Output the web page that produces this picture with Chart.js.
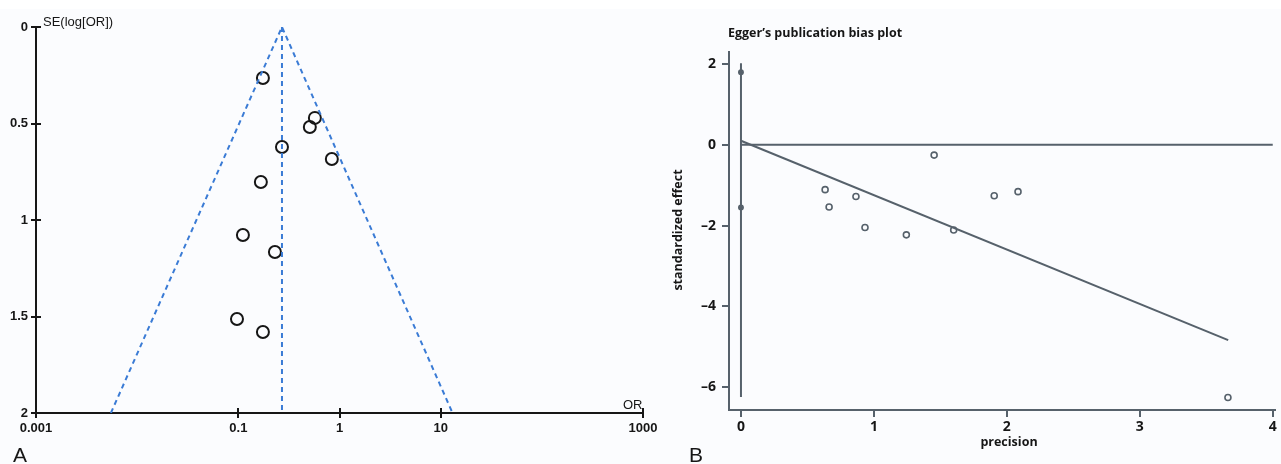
<!DOCTYPE html>
<html>
<head>
<meta charset="utf-8">
<script src="https://cdn.jsdelivr.net/npm/chart.js@4/dist/chart.umd.min.js"></script>
<style>
  html, body { margin: 0; padding: 0; background: #fbfcfe; }
  body { width: 1281px; height: 464px; position: relative; overflow: hidden; }
  #topStrip { position: absolute; left: 0; top: 0; width: 1281px; height: 9px; background: #fff; }
  #chartA { position: absolute; left: 0; top: 0; }
  #chartB { position: absolute; left: 660px; top: 0; }
</style>
</head>
<body>
<div id="topStrip"></div>
<canvas id="chartA" width="660" height="464"></canvas>
<canvas id="chartB" width="621" height="464"></canvas>
<script>
// panel A: funnel plot
const studyOR = [0.175, 0.509, 0.571, 0.27, 0.84, 0.167, 0.111, 0.23, 0.097, 0.175];
const studySE = [0.264, 0.518, 0.471, 0.622, 0.684, 0.803, 1.078, 1.166, 1.513, 1.58];
const pooledOR = 0.27;
const funnelOR = [0.0055, 0.27, 13.1];
const funnelSE = [2, 0, 2];
const orTicks = [0.001, 0.1, 1, 10, 1000];
const seTicks = [0, 0.5, 1, 1.5, 2];

// panel B: Egger's plot
const precision = [0.633, 0.663, 0.865, 0.933, 1.244, 1.453, 1.60, 1.905, 2.084, 3.663];
const stdEffect = [-1.11, -1.54, -1.28, -2.05, -2.23, -0.255, -2.11, -1.26, -1.16, -6.26];
const interceptPts = [1.8, -1.55];
const interceptLine = [2.02, -6.25];
const fitX = [0, 3.665];
const fitY = [0.1, -4.84];
const zeroX = [0, 4];
const precTicks = [0, 1, 2, 3, 4];
const effTicks = [2, 0, -2, -4, -6];

const blue = '#3a7bd5';
const ink = '#161616';
const slate = '#56616b';

// small plugin: crossing tick marks + free text for panel A
const funnelDecor = {
  id: 'funnelDecor',
  afterDraw(chart) {
    const ctx = chart.ctx;
    const xs = chart.scales.x, ys = chart.scales.y;
    ctx.save();
    ctx.strokeStyle = ink;
    ctx.lineWidth = 2;
    orTicks.forEach(v => {
      const px = Math.round(xs.getPixelForValue(v));
      ctx.beginPath(); ctx.moveTo(px, xs.top - 5); ctx.lineTo(px, xs.top + 5); ctx.stroke();
    });
    seTicks.forEach(v => {
      const py = Math.round(ys.getPixelForValue(v));
      ctx.beginPath(); ctx.moveTo(ys.right - 5, py); ctx.lineTo(ys.right + 5, py); ctx.stroke();
    });
    ctx.fillStyle = ink;
    ctx.font = '13px "Liberation Sans", Arial, sans-serif';
    ctx.textBaseline = 'middle';
    ctx.textAlign = 'left';
    ctx.fillText('SE(log[OR])', 43, 22);
    ctx.fillText('OR', 623, 405);
    ctx.font = '21px "Liberation Sans", Arial, sans-serif';
    ctx.fillText('A', 13, 456);
    ctx.restore();
  }
};

const tickFontA = { family: '"Liberation Sans", Arial, sans-serif', size: 13, weight: 'bold' };

new Chart(document.getElementById('chartA'), {
  type: 'scatter',
  data: {
    datasets: [
      {
        type: 'line', showLine: true,
        data: funnelOR.map((x, i) => ({ x: x, y: funnelSE[i] })),
        borderColor: blue, borderWidth: 2, borderDash: [5, 4],
        pointRadius: 0, fill: false, tension: 0
      },
      {
        type: 'line', showLine: true,
        data: [{ x: pooledOR, y: 0 }, { x: pooledOR, y: 2 }],
        borderColor: blue, borderWidth: 2, borderDash: [5, 4],
        pointRadius: 0, fill: false
      },
      {
        data: studyOR.map((x, i) => ({ x: x, y: studySE[i] })),
        pointRadius: 6, pointBorderWidth: 2,
        pointBorderColor: ink, pointBackgroundColor: 'rgba(0,0,0,0)'
      }
    ]
  },
  options: {
    responsive: false,
    animation: false,
    layout: { padding: { left: 0, right: 17, top: 27, bottom: 0 } },
    plugins: { legend: { display: false }, tooltip: { enabled: false } },
    scales: {
      x: {
        type: 'logarithmic', min: 0.001, max: 1000,
        afterBuildTicks: s => { s.ticks = orTicks.map(v => ({ value: v })); },
        afterFit: s => { s.height = 51; s.paddingLeft = 0; s.paddingRight = 0; },
        grid: { display: false, drawTicks: false, tickLength: 0 },
        border: { display: true, color: ink, width: 2 },
        ticks: {
          autoSkip: false, maxRotation: 0, padding: 8, color: ink,
          font: tickFontA,
          callback: v => String(v)
        }
      },
      y: {
        reverse: true, min: 0, max: 2,
        afterBuildTicks: s => { s.ticks = seTicks.map(v => ({ value: v })); },
        afterFit: s => { s.width = 36; s.paddingTop = 0; s.paddingBottom = 0; },
        grid: { display: false, drawTicks: false, tickLength: 0 },
        border: { display: true, color: ink, width: 2 },
        ticks: {
          padding: 8, color: ink,
          font: tickFontA,
          callback: v => String(v)
        }
      }
    }
  },
  plugins: [funnelDecor]
});

// text for panel B
const eggerDecor = {
  id: 'eggerDecor',
  afterDraw(chart) {
    const ctx = chart.ctx;
    ctx.save();
    ctx.fillStyle = ink;
    ctx.textBaseline = 'middle';
    ctx.font = 'bold 12.5px "Open Sans", "Liberation Sans", sans-serif';
    ctx.textAlign = 'left';
    ctx.fillText('Egger\u2019s publication bias plot', 68, 33);
    ctx.textAlign = 'center';
    ctx.fillText('precision', 349, 442);
    ctx.save();
    ctx.translate(18, 230);
    ctx.rotate(-Math.PI / 2);
    ctx.fillText('standardized effect', 0, 0);
    ctx.restore();
    ctx.font = '21px "Liberation Sans", Arial, sans-serif';
    ctx.textAlign = 'left';
    ctx.fillText('B', 29, 456);
    ctx.restore();
  }
};

const lineStyle = { type: 'line', showLine: true, borderColor: slate, borderWidth: 2, pointRadius: 0, fill: false, tension: 0 };
const tickFontB = { family: '"Open Sans", "Liberation Sans", sans-serif', size: 14, weight: 'bold' };

new Chart(document.getElementById('chartB'), {
  type: 'scatter',
  data: {
    datasets: [
      Object.assign({ data: zeroX.map(x => ({ x: x, y: 0 })) }, lineStyle),
      Object.assign({ data: interceptLine.map(y => ({ x: 0, y: y })) }, lineStyle),
      Object.assign({ data: fitX.map((x, i) => ({ x: x, y: fitY[i] })) }, lineStyle),
      {
        data: interceptPts.map(y => ({ x: 0, y: y })),
        pointRadius: 2.2, pointBorderWidth: 1.5,
        pointBorderColor: slate, pointBackgroundColor: slate
      },
      {
        data: precision.map((x, i) => ({ x: x, y: stdEffect[i] })),
        pointRadius: 3, pointBorderWidth: 1.6,
        pointBorderColor: slate, pointBackgroundColor: '#fbfcfe'
      }
    ]
  },
  options: {
    responsive: false,
    animation: false,
    layout: { padding: { left: 0, right: 2, top: 52, bottom: 0 } },
    plugins: { legend: { display: false }, tooltip: { enabled: false } },
    scales: {
      x: {
        type: 'linear', min: -0.09, max: 4.02,
        afterBuildTicks: s => { s.ticks = precTicks.map(v => ({ value: v })); },
        afterFit: s => { s.height = 54; s.paddingLeft = 0; s.paddingRight = 0; },
        grid: { display: true, drawOnChartArea: false, tickLength: 7, color: slate, lineWidth: 2 },
        border: { display: true, color: slate, width: 2 },
        ticks: {
          autoSkip: false, maxRotation: 0, padding: 2, color: ink,
          font: tickFontB,
          callback: v => String(v)
        }
      },
      y: {
        min: -6.57, max: 2.3,
        afterBuildTicks: s => { s.ticks = effTicks.map(v => ({ value: v })); },
        afterFit: s => { s.width = 69; s.paddingTop = 0; s.paddingBottom = 0; },
        grid: { display: true, drawOnChartArea: false, tickLength: 7, color: slate, lineWidth: 2 },
        border: { display: true, color: slate, width: 2 },
        ticks: {
          padding: 6, color: ink,
          font: tickFontB,
          callback: v => (v < 0 ? '\u2013' + Math.abs(v) : String(v))
        }
      }
    }
  },
  plugins: [eggerDecor]
});
</script>
</body>
</html>
